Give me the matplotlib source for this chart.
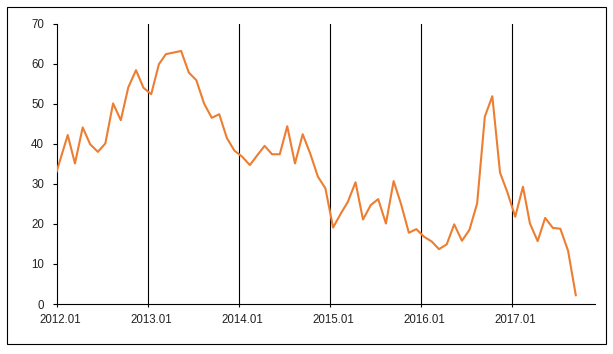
import matplotlib
matplotlib.use("Agg")
import matplotlib.pyplot as plt
import matplotlib.dates as mdates
import matplotlib.transforms as mtransforms
from matplotlib.patches import Rectangle
import pandas as pd

# monthly series, first reading on 1 Jan 2012, then mid-month
values = [33.0, 42.2, 35.1, 44.1, 39.9, 38.0, 40.1, 50.1, 45.9, 54.1,
          58.4, 54.0, 52.4, 59.9, 62.4, 62.8, 63.2, 57.8, 55.9, 50.1,
          46.5, 47.4, 41.4, 38.3, 36.8, 34.7, 37.0, 39.5, 37.4, 37.4,
          44.4, 35.1, 42.4, 37.6, 31.8, 28.9, 19.1, 22.6, 25.5, 30.4,
          21.1, 24.7, 26.2, 20.1, 30.7, 24.9, 17.8, 18.7, 16.8, 15.6,
          13.7, 14.9, 19.9, 15.8, 18.5, 25.1, 46.8, 51.9, 32.8, 27.8,
          21.8, 29.3, 20.1, 15.7, 21.5, 19.0, 18.8, 13.3, 2.2]
dates = ["2012-01-01"] + [f"{2012 + m // 12}-{m % 12 + 1:02d}-15" for m in range(1, len(values))]
years = [2012, 2013, 2014, 2015, 2016, 2017]
year_labels = [f"{y}.01" for y in years]
y_ticks = [0, 10, 20, 30, 40, 50, 60, 70]

x = pd.to_datetime(dates)
year_starts = pd.to_datetime([f"{y}-01-01" for y in years])

fig = plt.figure(figsize=(6.13, 3.54), dpi=100)
ax = fig.add_axes([0.0922, 0.1412, 0.8784, 0.7918])

# year separators
for d in year_starts[1:]:
    ax.axvline(d, color="black", linewidth=0.8, zorder=1)

ax.plot(x, values, color="#ED7D31", linewidth=1.5, zorder=3)

ax.set_xlim(pd.Timestamp("2012-01-01"), pd.Timestamp("2017-12-01"))
ax.set_ylim(0, 70)
ax.set_yticks(y_ticks)
ax.set_xticks(year_starts)
ax.set_xticklabels(year_labels)

for s in ["top", "right"]:
    ax.spines[s].set_visible(False)
for s in ["left", "bottom"]:
    ax.spines[s].set_linewidth(0.8)

ax.tick_params(axis="y", length=3, width=0.8, pad=6, labelsize=8.3, labelcolor="#222222")
ax.tick_params(axis="x", length=2.5, width=0.8, pad=5, labelsize=8.3, labelcolor="#222222")
for lab in ax.get_xticklabels() + ax.get_yticklabels():
    lab.set_family("Liberation Sans")

# shift year labels a bit to the right, like the source
offset = mtransforms.ScaledTranslation(3.7 / 100, 0, fig.dpi_scale_trans)
for lab in ax.get_xticklabels():
    lab.set_transform(lab.get_transform() + offset)

# outer frame
fig.patches.append(Rectangle((7 / 613, 10 / 354), 599 / 613, 337 / 354,
                             transform=fig.transFigure, fill=False,
                             edgecolor="black", linewidth=0.8))

fig.savefig("out.png", dpi=100)
